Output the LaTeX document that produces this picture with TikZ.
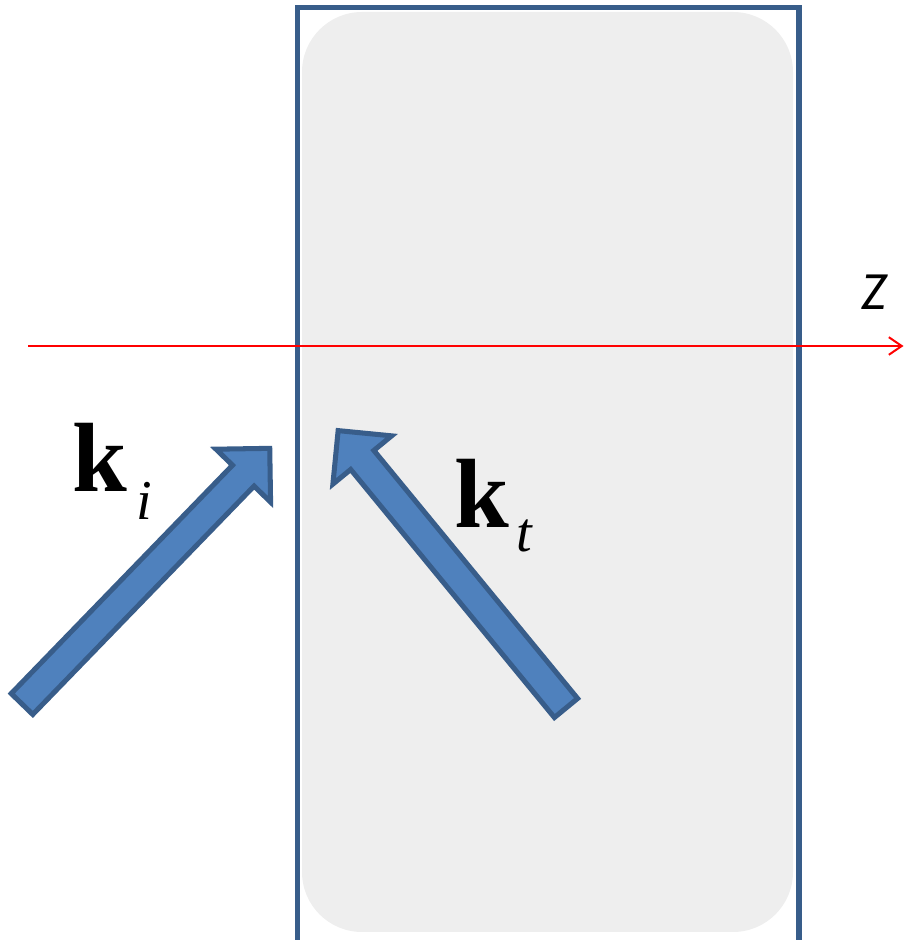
\documentclass[tikz,border=0pt]{standalone}
\usepackage{fontspec}
\usetikzlibrary{arrows.meta}
\newfontfamily\wavefont{Liberation Serif}
\newfontfamily\axisfont{Carlito}
\definecolor{arrowfill}{RGB}{79,129,189}
\definecolor{arrowline}{RGB}{56,93,138}
\definecolor{slabfill}{RGB}{238,238,238}
\tikzset{
  pics/blockarrow/.style={code={
    \draw[blockbody] (0,-15) -- (#1-38,-15) -- (#1-38,-38) -- (#1,0)
      -- (#1-38,38) -- (#1-38,15) -- (0,15) -- cycle;
  }}
}

\begin{document}
\begin{tikzpicture}[
    x=0.03cm, y=0.03cm,
    slab/.style={draw=arrowline, line width=4.3pt},
    grain/.style={fill=slabfill, rounded corners=1.8cm},
    zaxis/.style={red, line width=1.7pt, -{Straight Barb[length=11pt, width=15pt]}},
    blockbody/.style={fill=arrowfill, draw=arrowline, line width=4.3pt, line join=miter},
    klabel/.style={inner sep=0pt, anchor=base west, font=\fontsize{84}{84}\selectfont\wavefont\bfseries},
    sublabel/.style={inner sep=0pt, anchor=base west, font=\fontsize{48}{48}\selectfont\wavefont\itshape},
    axislabel/.style={inner sep=0pt, font=\fontsize{46}{46}\selectfont\axisfont\itshape}
]
\useasboundingbox (0,0) rectangle (904,940);

% slab
\fill[grain] (302,8) rectangle (793,928);
\draw[slab] (297.5,-5) -- (297.5,932.5) -- (799,932.5) -- (799,-5);

% z axis
\coordinate (zstart) at (28,594);
\coordinate (zend) at (903.5,594);
\draw[zaxis] (zstart) -- (zend);
\node[axislabel] (zlab) at (874,648) {Z};

% wave vectors
\pic[rotate=45.9] (ki) at (22,236) {blockarrow=356};
\pic[rotate=129.4] (kt) at (566,232) {blockarrow=359};

\node[klabel] (kilab) at (72,448) {k};
\node[sublabel] (kisub) at (136,420) {i};
\node[klabel] (ktlab) at (454,412) {k};
\node[sublabel] (ktsub) at (516,388) {t};
\end{tikzpicture}
\end{document}
